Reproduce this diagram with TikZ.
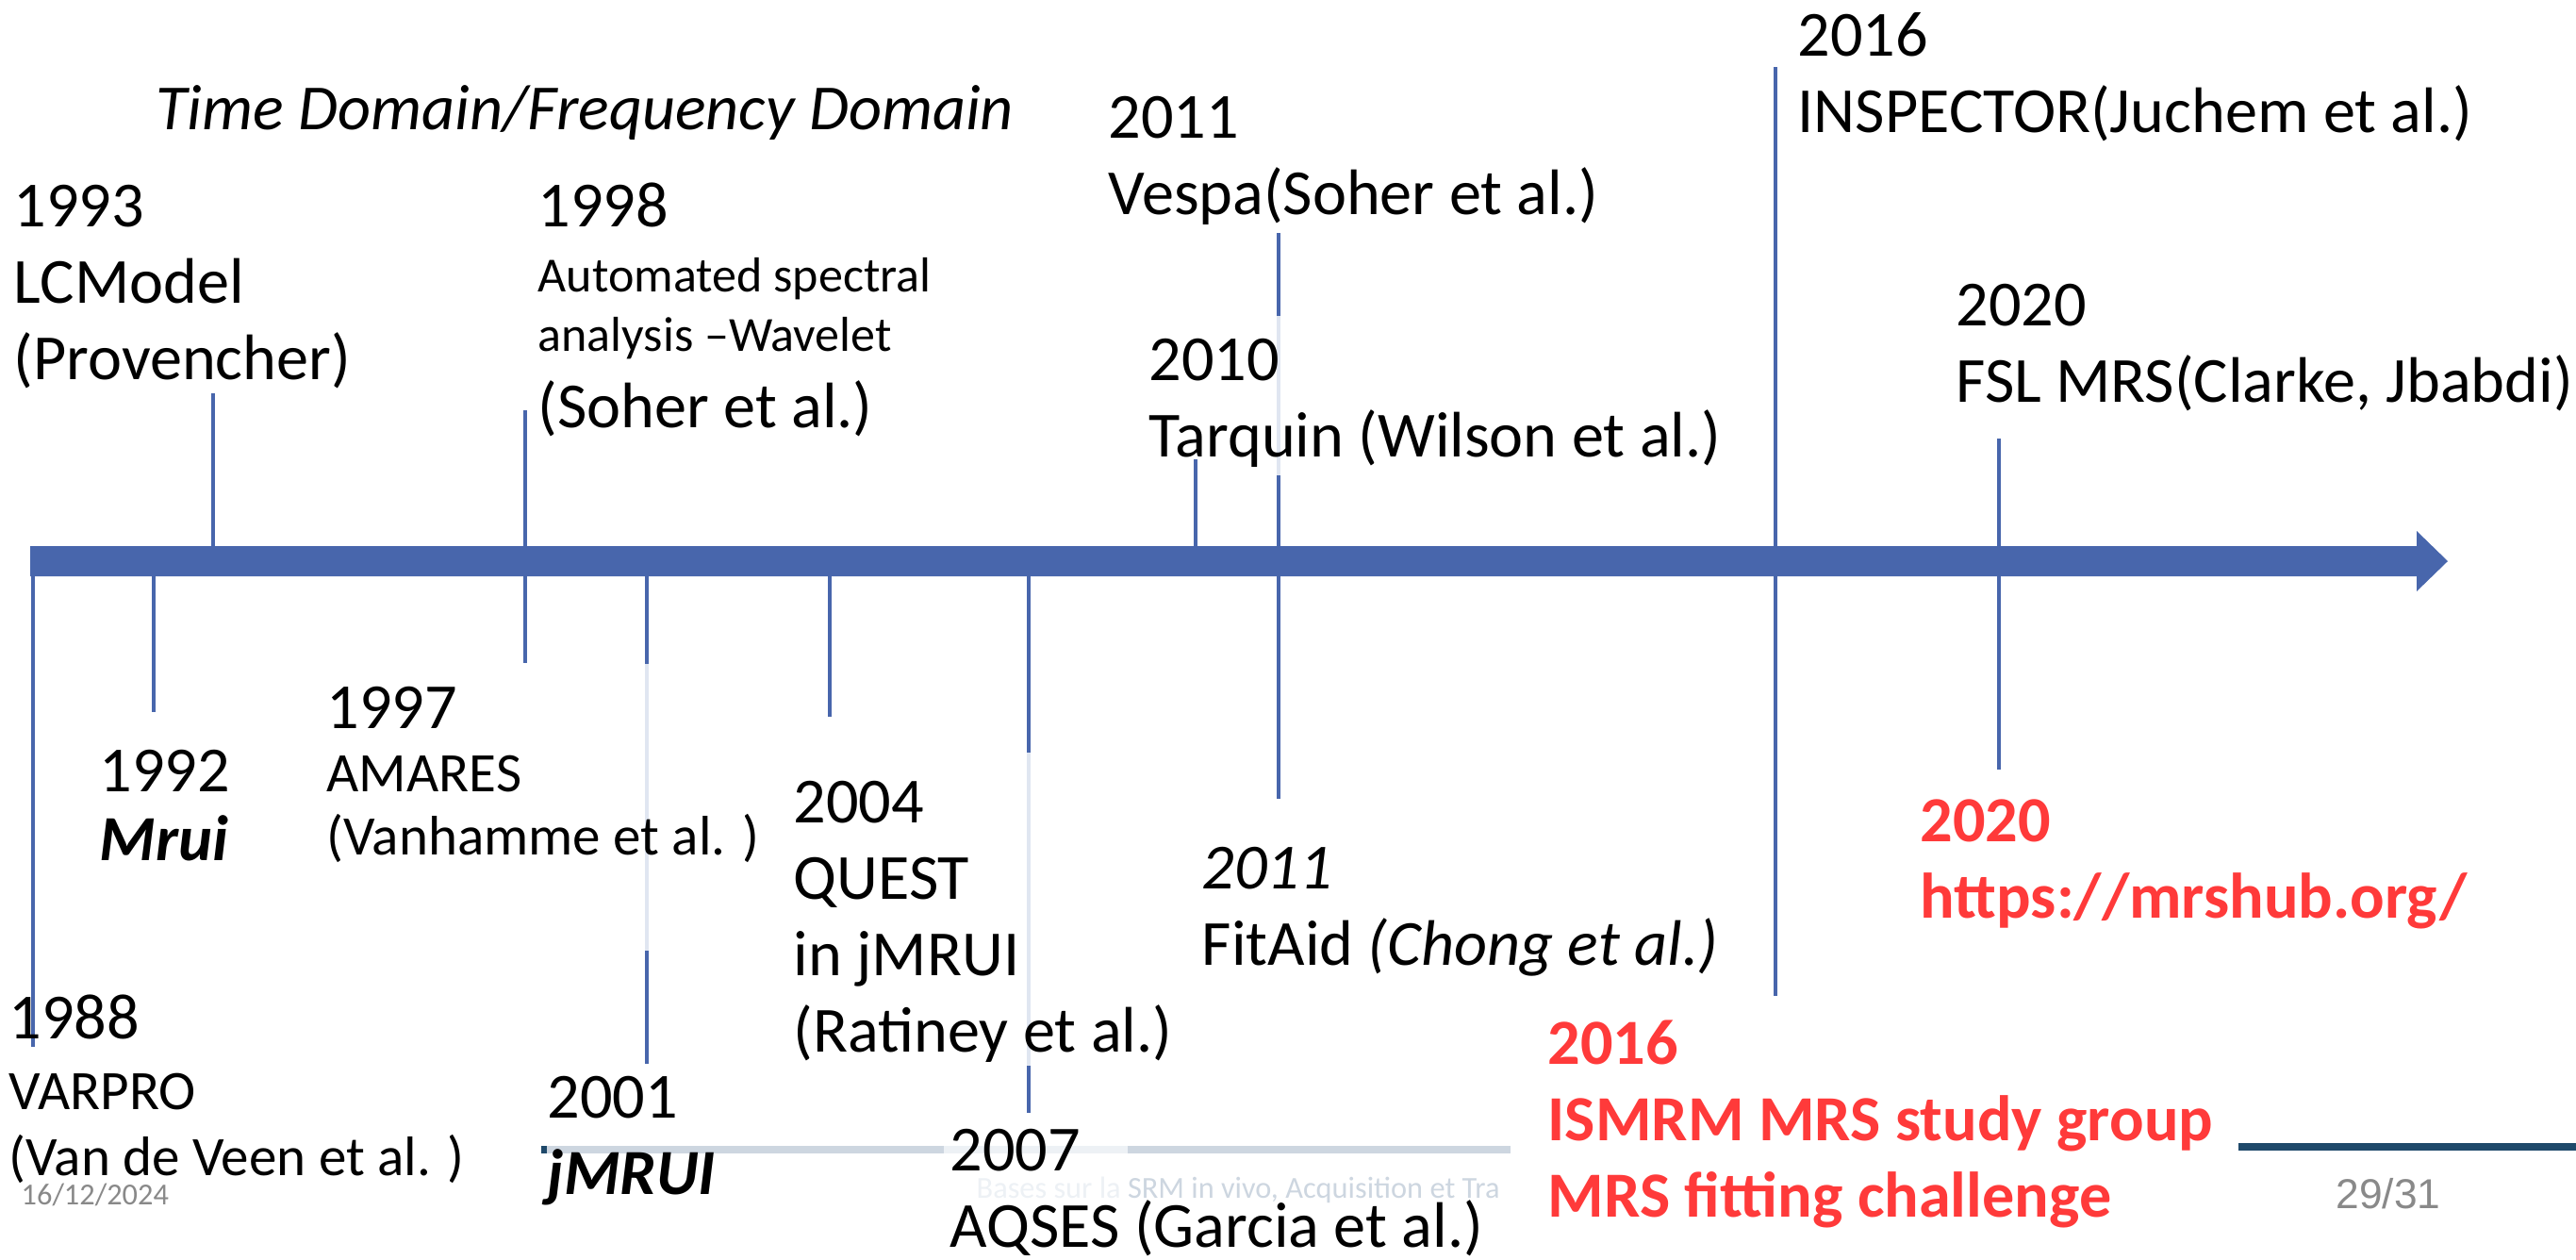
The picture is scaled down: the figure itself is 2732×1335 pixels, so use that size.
\documentclass[tikz,border=0pt]{standalone}
\usepackage{fontspec}
\setmainfont{Carlito}
\newfontfamily\pagefont{Liberation Sans}
\usepackage{tikz}
\usetikzlibrary{positioning}
\definecolor{barblue}{RGB}{72,102,172}
\definecolor{faintblue}{RGB}{224,230,241}
\definecolor{hubred}{RGB}{255,58,58}
\definecolor{footnavy}{RGB}{31,73,106}
\definecolor{footlight}{RGB}{205,214,224}
\definecolor{footfaint}{RGB}{237,241,245}
\definecolor{footgray}{RGB}{137,137,137}
% Labels are placed by the baseline of their last line
\tikzstyle{basefont}=[font=\fontsize{19.4}{23}\selectfont]
\tikzstyle{event}=[basefont, anchor=base west, align=left, inner sep=0pt]
\tikzstyle{news}=[event, text=hubred, font=\fontsize{19.4}{23}\selectfont\bfseries]
\tikzstyle{footnote}=[anchor=base west, inner sep=0pt, text=footgray, font=\fontsize{9.2}{11}\selectfont]
\tikzstyle{yearline}=[barblue, line width=0.9pt]
\tikzstyle{veiled}=[faintblue, line width=0.9pt]
\tikzstyle{footline}=[line width=2.3pt]
\newcommand*{\smalltext}[1]{{\fontsize{14.8}{17}\selectfont #1}}
\newcommand*{\midtext}[1]{{\fontsize{16.8}{20}\selectfont #1}}

\begin{document}
\begin{tikzpicture}[x=0.01cm, y=-0.01cm]
        % Page frame
        \path[fill=white, use as bounding box] (0,0) rectangle (2732,1335);

        % Footer lines
        \draw[footline, footnavy] (574,1219) -- (580,1219);
        \draw[footline, footlight] (580,1219) -- (1001,1219);
        \draw[footline, footfaint] (1001,1219) -- (1196,1219);
        \draw[footline, footlight] (1196,1219) -- (1602,1219);
        \draw[footline, footnavy] (2374,1216) -- (2732,1216);

        % Time axis
        \fill[barblue] (32,579) -- (2563,579) -- (2563,563) -- (2596,595)
            -- (2563,627) -- (2563,611) -- (32,611) -- cycle;

        % Year lines
        \foreach \name/\x/\ya/\yb in {
            y1988/35/597/1110,
            y1992/163/585/755,
            y1993/226/417/595,
            y1998/557/435/703,
            y2004/880/600/760,
            y2010/1268/487/606,
            y2016/1883/71/1056,
            y2020/2120/465/816
        }{
            \coordinate (\name-a) at (\x,\ya);
            \coordinate (\name-b) at (\x,\yb);
            \draw[yearline] (\name-a) -- (\name-b);
        }

        % Year lines running behind a label
        \foreach \name/\x/\ya/\yb/\yc/\yd in {
            y2001/686/582/704/1008/1128,
            y2007/1091/597/798/1130/1180,
            y2011/1356/247/335/504/847
        }{
            \coordinate (\name-a) at (\x,\ya);
            \coordinate (\name-b) at (\x,\yb);
            \coordinate (\name-c) at (\x,\yc);
            \coordinate (\name-d) at (\x,\yd);
            \draw[yearline] (\name-a) -- (\name-b);
            \draw[veiled] (\name-b) -- (\name-c);
            \draw[yearline] (\name-c) -- (\name-d);
        }

        % Labels above the axis
        \node[event, font=\fontsize{19.4}{23}\selectfont\itshape] (domains) at (165,137)
            {Time Domain/Frequency Domain};
        \node[event] (lcmodel) at (14,402) {1993\\LCModel\\(Provencher)};
        \node[event] (wavelet) at (570,453)
            {1998\\[-3.4pt]\smalltext{Automated spectral}\\[-5.1pt]\smalltext{analysis \textendash{}Wavelet}\\(Soher et al.)};
        \node[event] (vespa) at (1175,227) {2011\\Vespa(Soher et al.)};
        \node[event] (tarquin) at (1218,484) {2010\\Tarquin (Wilson et al.)};
        \node[event] (inspector) at (1906,140) {2016\\INSPECTOR(Juchem et al.)};
        \node[event] (fslmrs) at (2074,426) {2020\\FSL MRS(Clarke, Jbabdi)};

        % Labels below the axis
        \node[event] (varpro) at (9,1246)
            {1988\\[-1.7pt]\midtext{VARPRO}\\[-3.1pt]\midtext{(Van de Veen et al. )}};
        \node[event] (mrui) at (105,912) {1992\\[-2.5pt]\textbf{\textit{Mrui}}};
        \node[event] (amares) at (346,906)
            {1997\\[-4pt]\midtext{AMARES}\\[-4pt]\midtext{(Vanhamme et al. )}};
        \node[event] (jmrui) at (580,1266) {2001\\\textbf{\textit{jMRUI}}};
        \node[event] (quest) at (841,1115) {2004\\QUEST\\in jMRUI\\(Ratiney et al.)};
        \node[event] (aqses) at (1007,1322) {2007\\AQSES (Garcia et al.)};
        \node[event] (fitaid) at (1274,1023) {\textit{2011}\\FitAid \textit{(Chong et al.)}};
        \node[news] (challenge) at (1641,1290) {2016\\ISMRM MRS study group\\MRS fitting challenge};
        \node[news] (mrshub) at (2036,973) {2020\\https://mrshub.org/};

        % Slide footer
        \node[footnote] (date) at (22,1277) {16/12/2024};
        \node[footnote, text=footlight] (course) at (1035,1270)
            {{\color{footfaint}Bases sur la }SRM in vivo, Acquisition et Tra};
        \node[footnote, font=\pagefont\fontsize{12.6}{15}\selectfont] (page) at (2477,1281) {29/31};
\end{tikzpicture}
\end{document}
